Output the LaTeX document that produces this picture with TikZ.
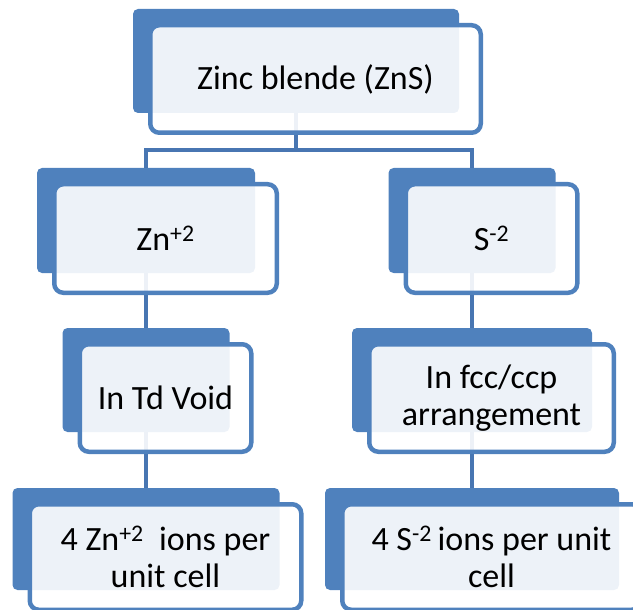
\documentclass[tikz,border=0pt]{standalone}
\usepackage{fontspec}
\setmainfont{Carlito}
\definecolor{boxblue}{RGB}{79,129,189}
\definecolor{linkblue}{RGB}{72,118,178}

\begin{document}
\begin{tikzpicture}[x=1pt,y=-1pt,font=\fontsize{34}{37}\selectfont,
  back/.style={fill=boxblue,rounded corners=5pt,inner sep=0pt},
  front/.style={draw=boxblue,line width=4.5pt,fill=white,fill opacity=.9,text opacity=1,
    rounded corners=9pt,inner sep=0pt,align=center},
  link/.style={draw=linkblue,line width=4.5pt}]

\useasboundingbox (0,0) rectangle (633,610);
\clip (0,0) rectangle (633,610);

\node[back,minimum width=326pt,minimum height=104pt] (zinc) at (296,61) {};
\node[back,minimum width=218pt,minimum height=105pt] (zn) at (146,220.5) {};
\node[back,minimum width=167pt,minimum height=105pt] (sul) at (472,220.5) {};
\node[back,minimum width=167pt,minimum height=104pt] (td) at (146,380) {};
\node[back,minimum width=240pt,minimum height=104pt] (fcc) at (472,380) {};
\node[back,minimum width=267pt,minimum height=102pt] (zncell) at (146,539) {};
\node[back,minimum width=294pt,minimum height=102pt] (scell) at (472,539) {};

\coordinate (bar) at (296,150);
\draw[link] (zinc.south) -- (bar);
\draw[link] (zn.north) |- (bar) -| (sul.north);
\draw[link] (zn.south) -- (td.north);
\draw[link] (sul.south) -- (fcc.north);
\draw[link] (td.south) -- (zncell.north);
\draw[link] (fcc.south) -- (scell.north);

\node[front,minimum width=330.5pt,minimum height=107.5pt] (zinctxt) at ([shift={(19.5,18)}]zinc) {Zinc blende (ZnS)};
\node[front,minimum width=222.5pt,minimum height=108.5pt] (zntxt) at ([shift={(19.5,18)}]zn) {Zn\textsuperscript{+2}};
\node[front,minimum width=171.5pt,minimum height=108.5pt] (sultxt) at ([shift={(19.5,18)}]sul) {S\textsuperscript{-2}};
\node[front,minimum width=171.5pt,minimum height=107.5pt] (tdtxt) at ([shift={(19.5,18)}]td) {In Td Void};
\node[front,minimum width=244.5pt,minimum height=107.5pt] (fcctxt) at ([shift={(19.5,18)}]fcc) {In fcc/ccp\\arrangement};
\node[front,minimum width=271.5pt,minimum height=105.5pt] (znctxt) at ([shift={(19.5,18)}]zncell) {4 Zn\textsuperscript{+2}\ \ ions per\\unit cell};
\node[front,minimum width=298.5pt,minimum height=105.5pt] (sctxt) at ([shift={(19.5,18)}]scell) {4 S\textsuperscript{-2}\,ions per unit\\cell};

\end{tikzpicture}
\end{document}
